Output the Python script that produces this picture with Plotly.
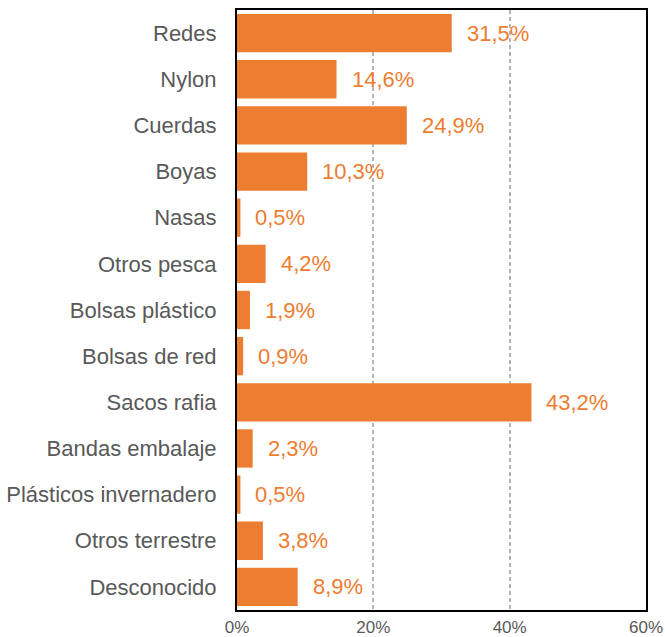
import plotly.graph_objects as go

categories = ["Redes", "Nylon", "Cuerdas", "Boyas", "Nasas", "Otros pesca",
              "Bolsas plástico", "Bolsas de red", "Sacos rafia", "Bandas embalaje",
              "Plásticos invernadero", "Otros terrestre", "Desconocido"]
values = [31.5, 14.6, 24.9, 10.3, 0.5, 4.2, 1.9, 0.9, 43.2, 2.3, 0.5, 3.8, 8.9]
tick_vals = [0, 20, 40, 60]
tick_text = ["0%", "20%", "40%", "60%"]

orange = "#ED7D31"
gray = "#595959"
font_family = "Liberation Sans, Arial, sans-serif"

fig = go.Figure()
fig.add_trace(go.Bar(
    x=values,
    y=categories,
    orientation="h",
    marker=dict(color=orange, line=dict(width=0)),
    showlegend=False,
))

# value labels to the right of each bar
for cat, val in zip(categories, values):
    fig.add_annotation(
        x=val, y=cat, xref="x", yref="y",
        text=f"{val:.1f}%".replace(".", ","),
        showarrow=False, xanchor="left", xshift=13,
        font=dict(family=font_family, size=22, color=orange),
    )

fig.update_layout(
    width=665, height=637,
    margin=dict(l=237, r=19, t=10, b=27),
    plot_bgcolor="white", paper_bgcolor="white",
    bargap=0.17,
    font=dict(family=font_family, color=gray),
    xaxis=dict(
        range=[0, 60], tickvals=tick_vals, ticktext=tick_text, automargin=False,
        showgrid=True, gridcolor="#B4B4B4", griddash="4px,3px", gridwidth=1.5,
        zeroline=False, showline=True, mirror=True, linecolor="black", linewidth=2,
        ticks="", tickfont=dict(size=17, color=gray), ticklabelstandoff=1,
    ),
    yaxis=dict(
        autorange="reversed", showgrid=False, zeroline=False, automargin=False,
        showline=True, mirror=True, linecolor="black", linewidth=2,
        ticks="", tickfont=dict(size=22, color=gray), ticklabelstandoff=14,
    ),
)

fig.write_html(
    "out.html",
    config={"displayModeBar": False},
    post_script="document.body.style.margin='0';document.body.style.overflow='hidden';",
)
